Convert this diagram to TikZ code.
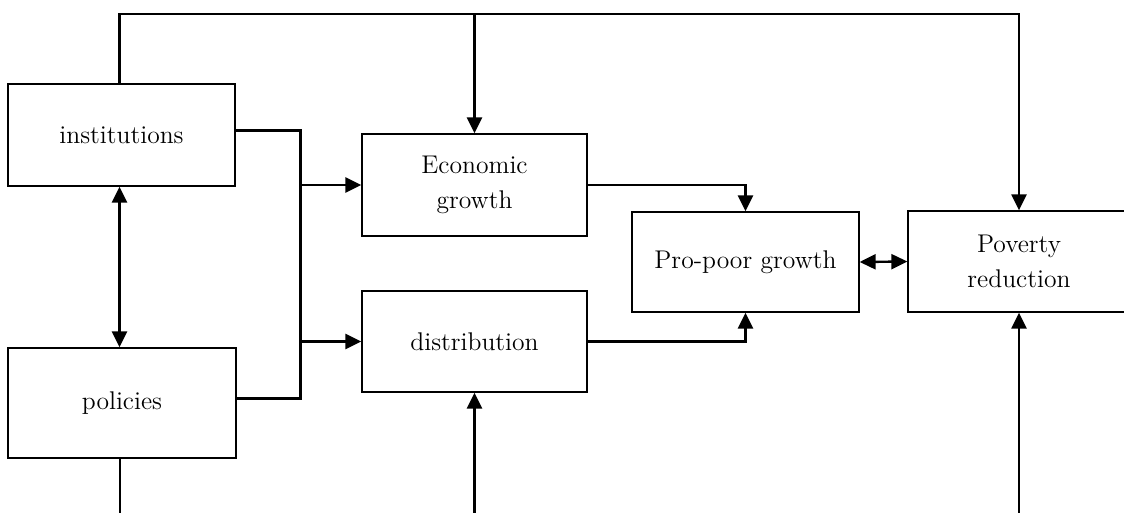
\documentclass[tikz,border=0pt]{standalone}
\usetikzlibrary{arrows.meta}
\begin{document}
\begin{tikzpicture}[x=0.5pt,y=-0.5pt,
  box/.style={draw,line width=0.65pt,inner sep=0pt,align=center,
    font=\fontsize{12.8}{17.5}\selectfont},
  conn/.style={line width=1.2pt},
  busline/.style={line width=1.5pt},
  arr/.style={conn,-{Triangle[length=8pt,width=7.5pt]}},
  darr/.style={conn,{Triangle[length=8pt,width=7.5pt]}-{Triangle[length=8pt,width=7.5pt]}}]
\useasboundingbox (0,0) rectangle (1124,513);
\clip (0,0) rectangle (1124,513);
% boxes
\node[box,minimum width=113.5pt,minimum height=51pt] (inst) at (121.5,135) {institutions};
\node[box,minimum width=114pt,minimum height=55pt] (pol) at (122,403) {policies};
\node[box,minimum width=112.5pt,minimum height=51pt] (eg) at (474.5,185) {Economic\\growth};
\node[box,minimum width=112.5pt,minimum height=50.5pt] (dist) at (474.5,341.5) {distribution};
\node[box,minimum width=113.5pt,minimum height=50pt] (ppg) at (745.5,262) {Pro-poor growth};
\node[box,minimum width=111pt,minimum height=50.5pt] (pov) at (1019,261.5) {Poverty\\reduction};
% helper coordinates
\coordinate (top) at (0,14);
\coordinate (bus) at (300,0);
\coordinate (bottom) at (0,530);
% top feedback line
\draw[arr] ([xshift=-1pt]inst.north) -- ([xshift=-1pt]inst.north |- top) -| (pov.north);
\draw[arr] (eg.north |- top) -- (eg.north);
% institutions <-> policies
\draw[darr] ([xshift=-1pt]inst.south) -- ([xshift=-1pt]inst.south |- pol.north);
% bus
\draw[busline] ([yshift=2pt]inst.east) -- ([yshift=2pt]inst.east -| bus) -- ([yshift=2.5pt]pol.east -| bus) -- ([yshift=2.5pt]pol.east);
\draw[arr] (eg.west -| bus) -- (eg.west);
\draw[arr] (dist.west -| bus) -- (dist.west);
% into pro-poor growth
\draw[arr] (eg.east) -| (ppg.north);
\draw[arr] (dist.east) -| (ppg.south);
\draw[darr] (ppg.east) -- (pov.west);
% bottom lines
\draw[conn] ([xshift=-1pt]pol.south) -- ([xshift=-1pt]pol.south |- bottom);
\draw[arr] (dist.south |- bottom) -- (dist.south);
\draw[arr] (pov.south |- bottom) -- (pov.south);
\end{tikzpicture}
\end{document}
